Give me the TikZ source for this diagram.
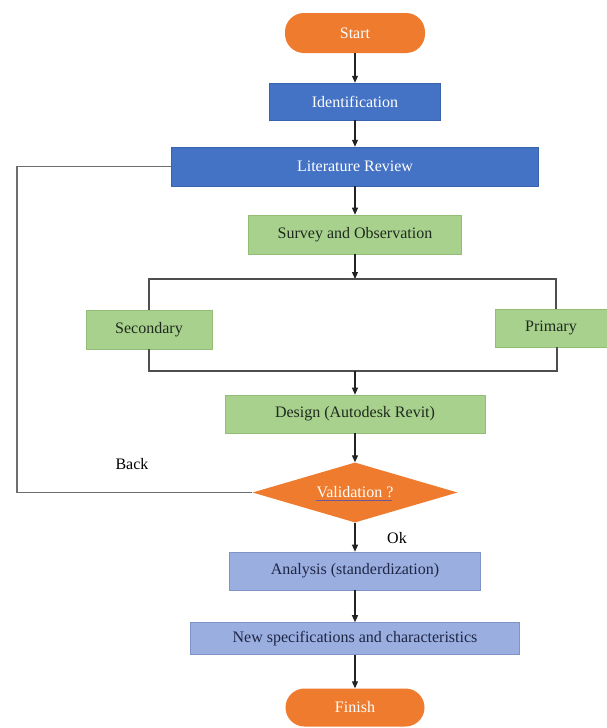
\documentclass[tikz,border=0pt]{standalone}
\usepackage{fontspec}
\setmainfont{Liberation Serif}
\usetikzlibrary{shapes.geometric,arrows.meta}
\definecolor{orng}{HTML}{EF7B2E}
\definecolor{blu}{HTML}{4472C4}
\definecolor{blud}{HTML}{3A63AE}
\definecolor{grn}{HTML}{A9D18E}
\definecolor{grnd}{HTML}{93BD76}
\definecolor{lav}{HTML}{9AAEE0}
\definecolor{lavd}{HTML}{7F93C8}
\definecolor{darktxt}{HTML}{1E2A1E}
\definecolor{navytxt}{HTML}{1F2645}
\definecolor{linec}{HTML}{222222}
\definecolor{loopc}{HTML}{6E6E6E}
\definecolor{ulc}{HTML}{6B5B9A}
\begin{document}
\begin{tikzpicture}[x=1pt,y=-1pt,
  every node/.style={font=\fontsize{16}{19}\selectfont, inner sep=0pt},
  pill/.style={fill=orng, text=white, rounded corners=19pt},
  bluebox/.style={fill=blu, draw=blud, line width=0.5pt, text=white},
  greenbox/.style={fill=grn, draw=grnd, line width=0.6pt, text=darktxt},
  lavbox/.style={fill=lav, draw=lavd, line width=0.6pt, text=navytxt},
  arr/.style={draw=linec, line width=1.2pt, -{Triangle[length=7pt,width=6pt]}},
  ln/.style={draw=linec!80!white, line width=1.2pt},
  looplin/.style={draw=loopc, line width=1.3pt}]
\useasboundingbox (0,0) rectangle (607,728);
\fill[white] (0,0) rectangle (607,728);

\node[pill, minimum width=140pt, minimum height=40pt] (start) at (355,33) {Start};
\node[bluebox, minimum width=171pt, minimum height=37pt] (ident) at (355,101.5) {Identification};
\node[bluebox, minimum width=367pt, minimum height=39pt] (lit) at (355,166.5) {Literature Review};
\node[greenbox, minimum width=213pt, minimum height=39pt] (survey) at (355,234.5) {Survey and Observation};
\node[greenbox, minimum width=126pt, minimum height=39pt] (sec) at (149,329.5) {Secondary};
\node[greenbox, minimum width=112pt, minimum height=38pt] (prim) at (551,328) {Primary};
\node[greenbox, minimum width=260pt, minimum height=38pt] (design) at (355,414) {Design (Autodesk Revit)};
\node[diamond, fill=orng, text=white, aspect=3.4, minimum width=205pt, minimum height=60pt] (valid) at (355,492.5)
  {Validation ?};
\draw[draw=ulc, line width=1.3pt] ([xshift=-39pt,yshift=-8pt]valid.center) -- ([xshift=37pt,yshift=-8pt]valid.center);
\node[lavbox, minimum width=251pt, minimum height=38pt] (anal) at (355,571) {Analysis (standerdization)};
\node[lavbox, minimum width=329pt, minimum height=32pt] (spec) at (355,638.5) {New specifications and characteristics};
\node[pill, minimum width=139pt, minimum height=38pt] (finish) at (355,707.5) {Finish};

\node (back) at (132,464) {Back};
\node (ok) at (397,538) {Ok};

\coordinate (sp) at (355,279);
\coordinate (spl) at (149,279);
\coordinate (spr) at (556,279);
\coordinate (jn) at (355,371);
\coordinate (jl) at (149,371);
\coordinate (jr) at (557,371);
\coordinate (lp) at (17,300);

\draw[arr] (start) -- (ident);
\draw[arr] (ident) -- (lit);
\draw[arr] (lit) -- (survey);
\draw[arr] (survey) -- (sp);
\draw[ln] (sec.north) -- (spl) -- (spr) -- (spr |- prim.north);
\draw[ln] (sec.south) -- (jl) -- (jr) -- (jr |- prim.south);
\draw[arr] (jn) -- (design);
\draw[arr] (design) -- (valid);
\draw[arr] (valid) -- (anal);
\draw[arr] (anal) -- (spec);
\draw[arr] (spec) -- (finish);
\draw[looplin] (valid.west) -- (valid.west -| lp) -- (lp |- lit.west) -- (lit.west);
\end{tikzpicture}
\end{document}
